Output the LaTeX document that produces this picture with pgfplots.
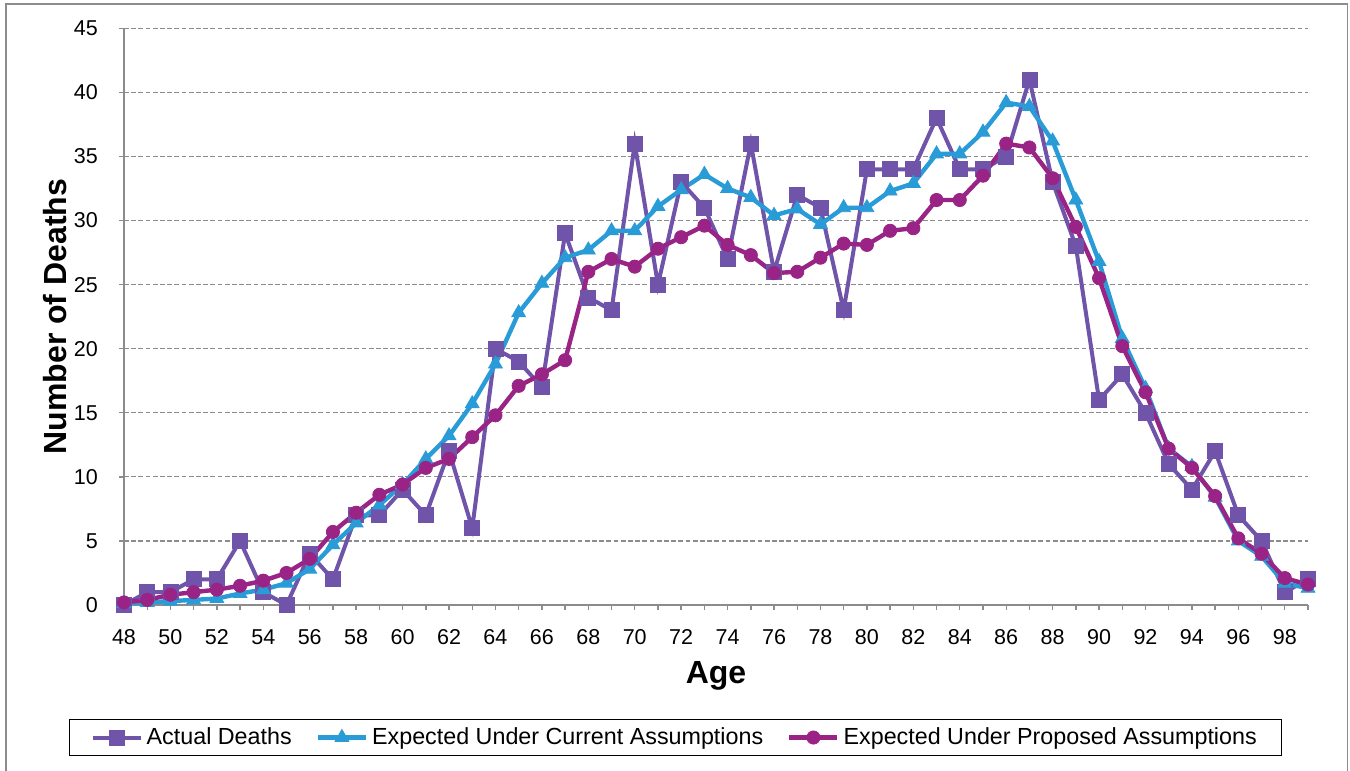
\documentclass[border=0pt]{standalone}
\usepackage{pgfplots}
\pgfplotsset{compat=1.18}
\usepackage{fontspec}
\setmainfont{Liberation Sans}
\definecolor{cActual}{HTML}{7054AA}
\definecolor{cCurrent}{HTML}{299BD7}
\definecolor{cProposed}{HTML}{9A2486}
\definecolor{gridgray}{HTML}{8C8C8C}
\begin{document}
\begin{tikzpicture}
\useasboundingbox (-62pt,-83pt) rectangle (613pt,302.5pt);
\draw[gridgray, line width=0.75pt] (-59pt,-100pt) -- (-59pt,300.5pt) -- (611.75pt,300.5pt) -- (611.75pt,-100pt);
\begin{axis}[
  at={(0pt,0pt)}, anchor=south west,
  scale only axis, width=592pt, height=288.35pt,
  xmin=48, xmax=99, ymin=0, ymax=45,
  clip=false,
  axis x line*=bottom, axis y line*=left,
  axis line style={gridgray, line width=0.7pt},
  xtick={48,50,...,98}, minor xtick={49,51,...,99},
  ytick={0,5,...,45},
  tick align=outside, major tick length=2.5pt, minor tick length=2.5pt,
  every tick/.style={gridgray, line width=0.7pt},
  ymajorgrids,
  major grid style={gridgray, dash pattern=on 2.4pt off 1.2pt, line width=0.65pt},
  /pgf/number format/assume math mode=true,
  ticklabel style={font=\fontsize{10.75}{12}\selectfont},
  yticklabel style={anchor=east, inner sep=0pt, xshift=-10.35pt},
  xticklabel style={anchor=center, inner sep=0pt, yshift=-13.5pt},
  xlabel={Age}, ylabel={Number of Deaths},
  every axis x label/.style={at={(axis description cs:0.5,0)}, anchor=center, yshift=-35.5pt, font=\bfseries\fontsize{16}{19}\selectfont},
  every axis y label/.style={at={(axis description cs:0,0.5)}, xshift=-34.5pt, rotate=90, anchor=center, font=\bfseries\fontsize{16}{19}\selectfont},
  legend columns=3,
  legend style={at={(0.466,-0.2298)}, anchor=center, draw=black, line width=0.6pt,
    inner xsep=10.5pt,
    font=\fontsize{11.65}{13.5}\selectfont,
    /tikz/every even column/.append style={column sep=10pt}},
  legend image code/.code={\draw[mark repeat=2,mark phase=2,#1] plot coordinates {(0pt,0pt) (12pt,0pt) (24pt,0pt)};},
]
\addplot[cActual, line width=2pt, mark=square*, mark size=3.75pt, mark options={solid, line width=0.4pt}] coordinates {
(48,0)(49,1)(50,1)(51,2)(52,2)(53,5)(54,1)(55,0)(56,4)(57,2)(58,7)(59,7)(60,9)(61,7)(62,12)(63,6)
(64,20)(65,19)(66,17)(67,29)(68,24)(69,23)(70,36)(71,25)(72,33)(73,31)(74,27)(75,36)(76,26)(77,32)
(78,31)(79,23)(80,34)(81,34)(82,34)(83,38)(84,34)(85,34)(86,35)(87,41)(88,33)(89,28)(90,16)(91,18)
(92,15)(93,11)(94,9)(95,12)(96,7)(97,5)(98,1)(99,2)};
\addlegendentry{Actual Deaths}
\addplot[cCurrent, line width=2.2pt, mark=triangle*, mark size=4pt, mark options={solid, line width=0.4pt}] coordinates {
(48,0.1)(49,0.2)(50,0.3)(51,0.4)(52,0.5)(53,0.9)(54,1.2)(55,1.7)(56,2.8)(57,4.7)(58,6.4)(59,7.8)
(60,9.4)(61,11.4)(62,13.2)(63,15.7)(64,18.8)(65,22.8)(66,25.1)(67,27.1)(68,27.7)(69,29.2)(70,29.2)
(71,31.1)(72,32.4)(73,33.6)(74,32.5)(75,31.8)(76,30.4)(77,30.9)(78,29.7)(79,31.0)(80,31.0)(81,32.3)
(82,32.9)(83,35.2)(84,35.2)(85,36.9)(86,39.2)(87,38.9)(88,36.2)(89,31.6)(90,26.8)(91,20.8)(92,16.9)
(93,12.2)(94,10.8)(95,8.4)(96,5.0)(97,3.8)(98,1.7)(99,1.3)};
\addlegendentry{Expected Under Current Assumptions}
\addplot[cProposed, line width=2.2pt, mark=*, mark size=3.3pt, mark options={solid, line width=0.4pt}] coordinates {
(48,0.2)(49,0.4)(50,0.8)(51,1.0)(52,1.2)(53,1.5)(54,1.9)(55,2.5)(56,3.6)(57,5.7)(58,7.2)(59,8.6)
(60,9.4)(61,10.7)(62,11.4)(63,13.1)(64,14.8)(65,17.1)(66,18.0)(67,19.1)(68,26.0)(69,27.0)(70,26.4)
(71,27.8)(72,28.7)(73,29.6)(74,28.1)(75,27.3)(76,25.9)(77,26.0)(78,27.1)(79,28.2)(80,28.1)(81,29.2)
(82,29.4)(83,31.6)(84,31.6)(85,33.5)(86,36.0)(87,35.7)(88,33.3)(89,29.5)(90,25.5)(91,20.2)(92,16.6)
(93,12.2)(94,10.7)(95,8.5)(96,5.2)(97,4.0)(98,2.1)(99,1.6)};
\addlegendentry{Expected Under Proposed Assumptions}
\end{axis}
\end{tikzpicture}
\end{document}
